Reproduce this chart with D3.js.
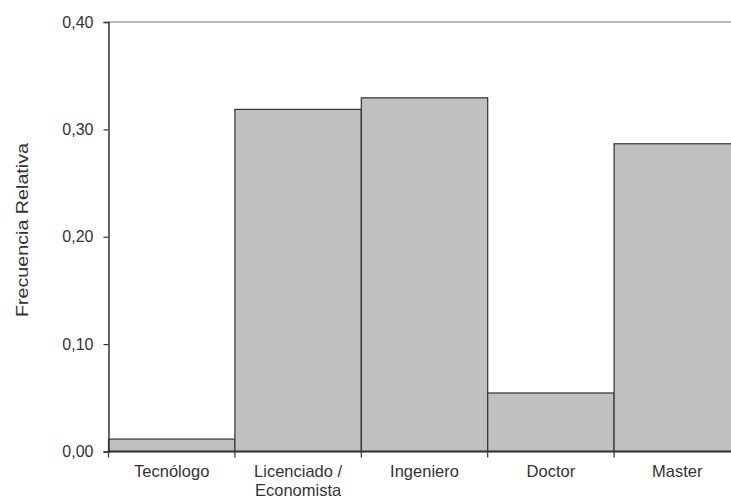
<!DOCTYPE html>
<html><head><meta charset="utf-8">
<script src="https://cdn.jsdelivr.net/npm/d3@7"></script>
<style>
html,body{margin:0;padding:0;background:#fff;overflow:hidden;}
text{font-family:"Liberation Sans",Arial,sans-serif;fill:#333;}
</style></head>
<body><svg id="c" width="731" height="497"></svg>
<script>
const categories = ["Tecnólogo", "Licenciado / Economista", "Ingeniero", "Doctor", "Master"];
const categoryLines = [["Tecnólogo"], ["Licenciado /", "Economista"], ["Ingeniero"], ["Doctor"], ["Master"]];
const values = [0.0116, 0.3186, 0.3294, 0.0545, 0.2866];
const yTicks = [0, 0.1, 0.2, 0.3, 0.4];
const yTitle = "Frecuencia Relativa";

(function () {
const svg = d3.select("#c");
const mLeft = 108.5, mRight = 740.5, mTop = 22, mBottom = 451.5;

const x = d3.scaleBand().domain(categories).range([mLeft, mRight]).padding(0);
const y = d3.scaleLinear().domain([0, 0.4]).range([mBottom, mTop]);
const fmt = v => d3.format(".2f")(v).replace(".", ",");

// top border line
svg.append("line").attr("x1", mLeft).attr("x2", 731).attr("y1", y(0.4)).attr("y2", y(0.4))
  .attr("stroke", "#a0a0a0").attr("stroke-width", 1.5);

// bars
svg.append("g").selectAll("rect").data(values).join("rect")
  .attr("x", (d, i) => x(categories[i]))
  .attr("y", d => y(d))
  .attr("width", x.bandwidth())
  .attr("height", d => y(0) - y(d))
  .attr("fill", "#c0c0c0")
  .attr("stroke", "#333")
  .attr("stroke-width", 1.2);

// y axis
const yAxis = d3.axisLeft(y).tickValues(yTicks).tickFormat(fmt).tickSize(5).tickPadding(10);
const gy = svg.append("g").attr("transform", `translate(${mLeft},0)`).call(yAxis);
gy.select(".domain").attr("stroke", "#333").attr("stroke-width", 1.5);
gy.selectAll(".tick line").attr("stroke", "#333").attr("stroke-width", 1.2);
gy.selectAll(".tick text").attr("font-size", 16).attr("fill", "#333")
  .style("font-family", "'Liberation Sans', Arial, sans-serif");

// x axis
const gx = svg.append("g").attr("transform", `translate(0,${mBottom})`);
gx.append("line").attr("x1", mLeft).attr("x2", 731).attr("y1", 0).attr("y2", 0)
  .attr("stroke", "#333").attr("stroke-width", 2);
gx.selectAll("line.tk").data(categories).join("line").attr("class", "tk")
  .attr("x1", d => x(d)).attr("x2", d => x(d)).attr("y1", 0).attr("y2", 6)
  .attr("stroke", "#333").attr("stroke-width", 1.2);
const lab = gx.selectAll("text.lb").data(categories).join("text").attr("class", "lb")
  .attr("text-anchor", "middle").attr("font-size", 16.5)
  .attr("transform", d => `translate(${x(d) + x.bandwidth() / 2},0)`);
lab.each(function(d, i) {
  d3.select(this).selectAll("tspan").data(categoryLines[i]).join("tspan")
    .attr("x", 0).attr("y", (t, j) => 25 + j * 19).text(t => t);
});

// y title
svg.append("text").attr("text-anchor", "middle").attr("font-size", 17)
  .attr("transform", "translate(28,230) rotate(-90)")
  .attr("textLength", 174).attr("lengthAdjust", "spacingAndGlyphs")
  .text(yTitle);
})();
</script></body></html>
